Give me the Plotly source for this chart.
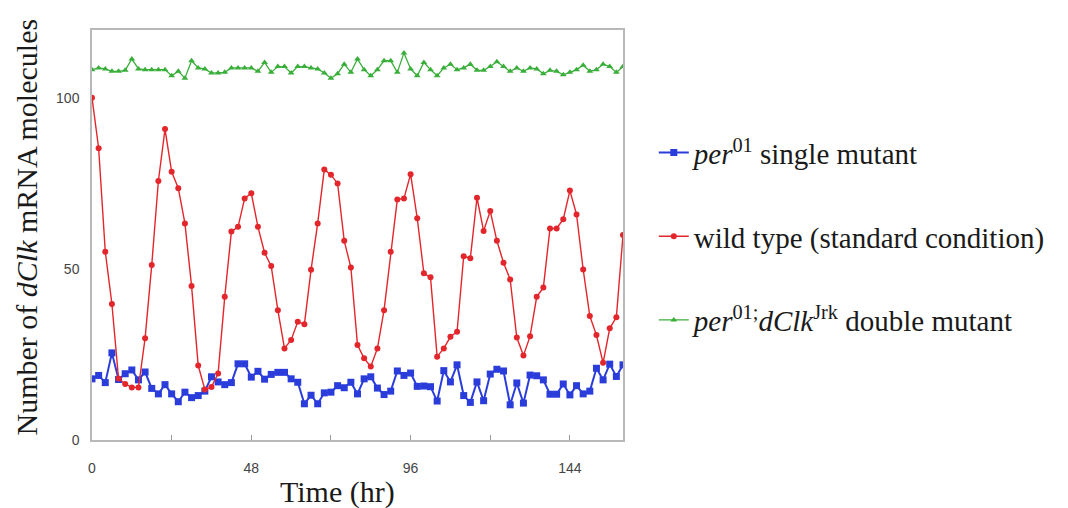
import plotly.graph_objects as go

time_hr = list(range(0, 161, 2))

wild_type = [100.2, 85.4, 55.1, 39.8, 18.0, 16.4, 15.4, 15.4, 29.8, 51.2,
             75.8, 91.0, 78.5, 73.7, 63.4, 45.1, 21.8, 14.8, 15.5, 19.5,
             41.9, 61.0, 62.4, 70.7, 72.2, 62.4, 54.8, 50.9, 38.0, 26.8,
             29.3, 34.6, 33.9, 49.8, 63.4, 79.2, 77.6, 75.1, 58.3, 50.5,
             27.8, 23.9, 21.5, 26.8, 38.0, 55.1, 70.4, 70.7, 77.8, 64.9,
             48.8, 47.6, 24.4, 26.8, 30.2, 31.7, 53.8, 53.2, 70.9, 61.2,
             67.0, 58.3, 51.9, 47.0, 30.0, 24.7, 30.4, 41.9, 44.6, 61.9,
             61.9, 64.6, 73.0, 66.0, 49.9, 36.3, 30.7, 22.6, 32.7, 35.9,
             60.0]

per01_single = [17.9, 18.9, 16.8, 25.5, 17.7, 19.4, 20.5, 17.6, 19.9, 15.1,
                13.5, 16.2, 13.5, 11.2, 14.0, 12.4, 13.0, 14.3, 18.5, 17.0,
                16.2, 16.8, 22.3, 22.3, 18.4, 20.1, 17.8, 19.2, 19.8, 19.8,
                17.9, 16.9, 10.6, 13.1, 10.6, 13.8, 14.0, 15.9, 15.3, 16.9,
                13.5, 17.9, 18.5, 15.2, 13.3, 14.3, 20.2, 18.9, 19.6, 15.7,
                15.8, 15.6, 11.4, 20.3, 17.0, 22.0, 13.0, 11.0, 17.0, 11.5,
                19.3, 20.7, 20.2, 10.3, 16.7, 10.8, 19.0, 18.8, 17.6, 13.4,
                13.4, 16.4, 13.2, 15.9, 13.5, 14.3, 21.0, 17.6, 22.2, 18.6,
                22.0]

double_mutant = [108.4, 108.9, 108.6, 107.9, 107.9, 108.2, 111.5, 108.6, 108.4, 108.4,
                 108.4, 108.4, 106.6, 107.9, 105.9, 111.0, 108.9, 108.6, 107.4, 107.4,
                 107.6, 108.9, 108.9, 108.9, 108.9, 107.9, 110.5, 107.6, 109.3, 109.3,
                 107.4, 109.3, 109.3, 108.9, 108.6, 107.4, 105.9, 107.2, 110.0, 107.6,
                 111.5, 108.4, 106.6, 108.4, 111.0, 111.0, 107.6, 113.3, 108.6, 106.6,
                 110.5, 108.4, 106.6, 108.9, 110.0, 108.4, 108.9, 110.0, 108.2, 108.2,
                 109.3, 110.7, 109.3, 107.9, 108.9, 107.9, 108.9, 108.6, 107.2, 108.2,
                 107.9, 106.9, 107.6, 108.4, 109.7, 107.9, 108.4, 110.0, 109.3, 107.6,
                 109.3]

x_tick_vals = [0, 48, 96, 144]
x_tick_text = ["0", "48", "96", "144"]
y_tick_vals = [0, 50, 100]
y_tick_text = ["0", "50", "100"]

names = ["<i>per</i><sup>01</sup> single mutant",
         "wild type (standard condition)",
         "<i>per</i><sup>01;</sup><i>dClk</i><sup>Jrk</sup> double mutant"]

BLUE = "#2a3ddb"
RED = "#e3262b"
GREEN = "#3aae3a"

SERIF = "Liberation Serif, Times New Roman, serif"
SANS = "Liberation Sans, Arial, sans-serif"

fig = go.Figure()
fig.add_trace(go.Scatter(x=time_hr, y=per01_single, mode="lines+markers", name=names[0],
                         legendgroup="a",
                         line=dict(color=BLUE, width=2),
                         marker=dict(symbol="square", size=7, color=BLUE)))
fig.add_trace(go.Scatter(x=time_hr, y=wild_type, mode="lines+markers", name=names[1],
                         legendgroup="b",
                         line=dict(color=RED, width=1.4),
                         marker=dict(symbol="circle", size=6, color=RED)))
fig.add_trace(go.Scatter(x=time_hr, y=double_mutant, mode="lines+markers", name=names[2],
                         legendgroup="c",
                         line=dict(color=GREEN, width=1.3),
                         marker=dict(symbol="triangle-up", size=6, color=GREEN)))

# page body has an 8px margin, so the figure is 8px smaller and offsets shifted
fig.update_layout(
    width=1060, height=500,
    margin=dict(l=84, r=445, t=22, b=68),
    paper_bgcolor="white", plot_bgcolor="white",
    showlegend=True,
    legend=dict(x=1.058, xanchor="left", y=0.763, yanchor="top",
                font=dict(family=SERIF, size=29, color="#1a1a1a"),
                tracegroupgap=43, itemwidth=30, bgcolor="rgba(0,0,0,0)"),
    xaxis=dict(range=[0, 160], tickmode="array", tickvals=x_tick_vals, ticktext=x_tick_text,
               ticks="inside", ticklen=5, tickcolor="#999",
               minor=dict(dtick=24, ticks="inside", ticklen=5, tickcolor="#999", showgrid=False),
               showgrid=False, zeroline=False,
               showline=True, mirror=True, linecolor="#b8b8b8", linewidth=1.5,
               tickfont=dict(family=SANS, size=14, color="#444"),
               ticklabelstandoff=14),
    yaxis=dict(range=[0, 120], tickmode="array", tickvals=y_tick_vals, ticktext=y_tick_text,
               ticks="inside", ticklen=0, tickcolor="#999",
               showgrid=False, zeroline=False,
               showline=True, mirror=True, linecolor="#b8b8b8", linewidth=1.5,
               tickfont=dict(family=SANS, size=14, color="#444"),
               ticklabelstandoff=8),
    annotations=[
        dict(text="Time (hr)", xref="paper", yref="paper", x=0.463, y=-0.127,
             xanchor="center", yanchor="middle", showarrow=False,
             font=dict(family=SERIF, size=30, color="#1a1a1a")),
        dict(text="Number of <i>dClk</i> mRNA molecules", xref="paper", yref="paper",
             x=-0.123, y=0.52, xanchor="center", yanchor="middle", textangle=-90,
             showarrow=False, font=dict(family=SERIF, size=30, color="#1a1a1a")),
    ],
)

fig.write_html("out.html")
